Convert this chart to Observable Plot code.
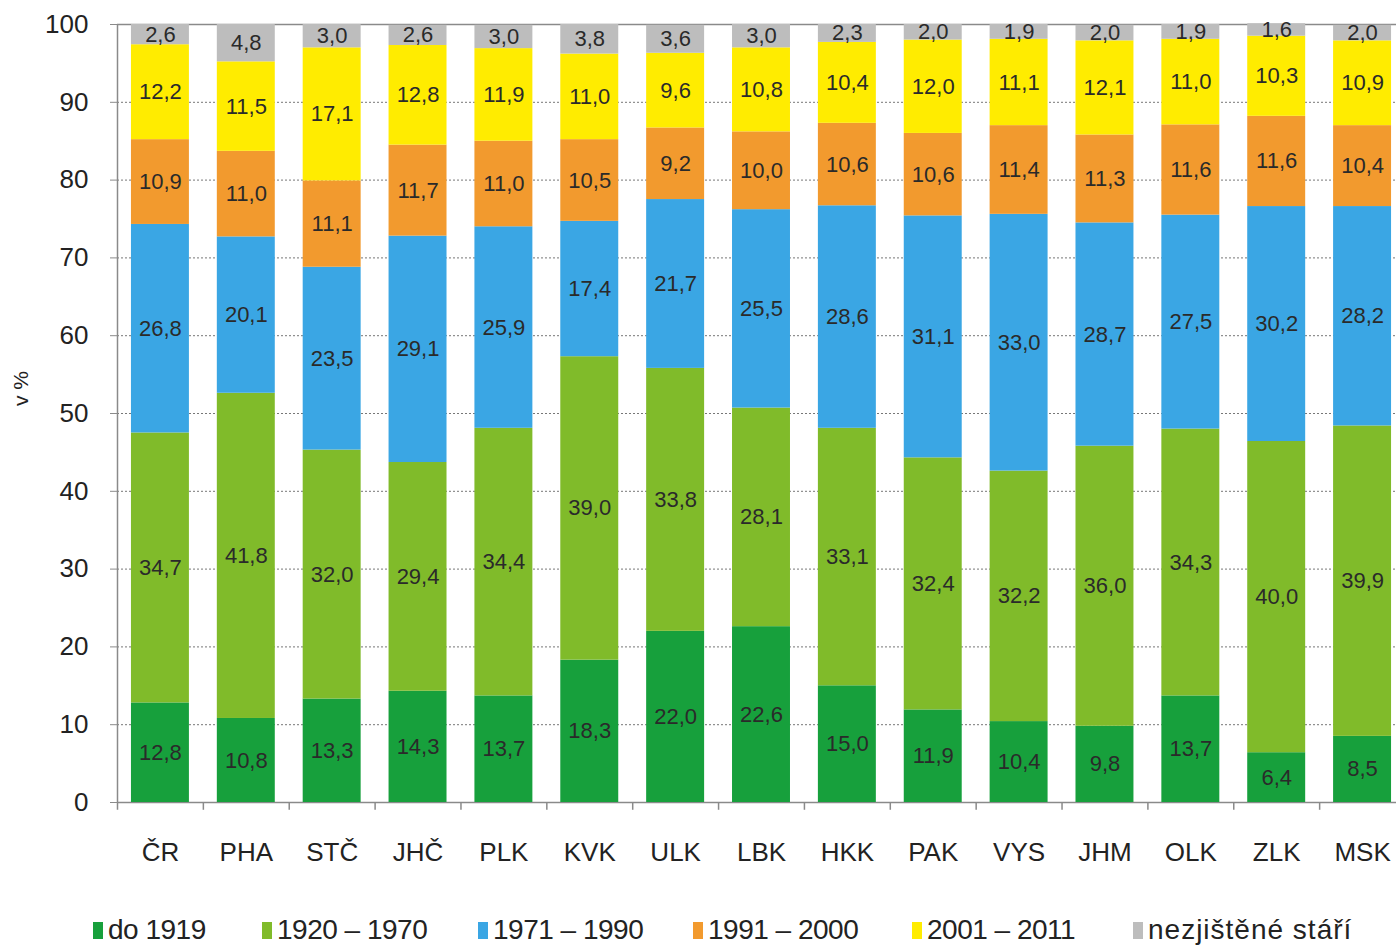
<!DOCTYPE html>
<html>
<head>
<meta charset="utf-8">
<script src="https://cdn.jsdelivr.net/npm/d3@7"></script>
<script src="https://cdn.jsdelivr.net/npm/@observablehq/plot@0.6"></script>
<style>
  html, body { margin: 0; padding: 0; background: #fff; }
  body { width: 1396px; height: 946px; overflow: hidden; font-family: "Liberation Sans", Arial, sans-serif; }
  #legend { position: relative; height: 66px; }
  .item { position: absolute; top: 30px; height: 40px; display: flex; align-items: center; font-size: 28px; color: #222; letter-spacing: -0.5px; font-family: "Liberation Sans", Arial, sans-serif; white-space: nowrap; }
  .sw { width: 10px; height: 17px; margin-right: 5px; }
</style>
</head>
<body>
<div id="chart"></div>
<div id="legend"></div>
<script>
const categories = ["ČR","PHA","STČ","JHČ","PLK","KVK","ULK","LBK","HKK","PAK","VYS","JHM","OLK","ZLK","MSK"];
const seriesNames = ["do 1919","1920 – 1970","1971 – 1990","1991 – 2000","2001 – 2011","nezjištěné stáří"];
const seriesColors = ["#17a03c","#80bb2a","#3aa6e4","#f29a2e","#ffec00","#bdbdbd"];
const do1919   = [12.8,10.8,13.3,14.3,13.7,18.3,22.0,22.6,15.0,11.9,10.4, 9.8,13.7, 6.4, 8.5];
const y1920_70 = [34.7,41.8,32.0,29.4,34.4,39.0,33.8,28.1,33.1,32.4,32.2,36.0,34.3,40.0,39.9];
const y1971_90 = [26.8,20.1,23.5,29.1,25.9,17.4,21.7,25.5,28.6,31.1,33.0,28.7,27.5,30.2,28.2];
const y1991_00 = [10.9,11.0,11.1,11.7,11.0,10.5, 9.2,10.0,10.6,10.6,11.4,11.3,11.6,11.6,10.4];
const y2001_11 = [12.2,11.5,17.1,12.8,11.9,11.0, 9.6,10.8,10.4,12.0,11.1,12.1,11.0,10.3,10.9];
const unknown  = [ 2.6, 4.8, 3.0, 2.6, 3.0, 3.8, 3.6, 3.0, 2.3, 2.0, 1.9, 2.0, 1.9, 1.6, 2.0];
const yTicks = [0,10,20,30,40,50,60,70,80,90,100];

const seriesValues = [do1919, y1920_70, y1971_90, y1991_00, y2001_11, unknown];
const data = [];
seriesNames.forEach((s, si) => {
  categories.forEach((c, ci) => data.push({cat: c, series: s, value: seriesValues[si][ci]}));
});

const width = 1396, marginLeft = 117, marginRight = -9;
const step = (width - marginLeft - marginRight) / categories.length;
const fmt = v => v.toFixed(1).replace(".", ",");

const chart = Plot.plot({
  width, height: 880,
  marginLeft, marginRight, marginTop: 24, marginBottom: 78,
  style: {fontFamily: "Liberation Sans, Arial, sans-serif", color: "#222", background: "#fff", overflow: "visible"},
  x: {domain: categories, paddingInner: 0.325, paddingOuter: 0.1625, round: false, label: null},
  y: {domain: [0, 100], label: null},
  color: {domain: seriesNames, range: seriesColors},
  marks: [
    Plot.gridY(yTicks.slice(1, -1), {stroke: "#777", strokeOpacity: 1, strokeDasharray: "2,2", strokeWidth: 1}),
    Plot.ruleY([0, 100], {stroke: "#8a8a8a", strokeWidth: 1.5}),
    Plot.ruleX(categories, {x: d => d, dx: -step / 2, y1: -1, y2: d => d === categories[0] ? 100 : 0, stroke: "#8a8a8a", strokeWidth: 1.5}),
    Plot.barY(data, {x: "cat", y: "value", fill: "series", z: "series"}),
    Plot.text(data, Plot.stackY({x: "cat", y: "value", z: "series", text: d => fmt(d.value), fill: "#2a2a2a", fontSize: 22, letterSpacing: "-0.5px"})),
    Plot.axisY(yTicks, {tickSize: 7, tickPadding: 22, fontSize: 26, stroke: "#8a8a8a", fill: "#222", label: null}),
    Plot.text(["v %"], {frameAnchor: "left", textAnchor: "middle", dx: -96, dy: -25, rotate: -90, fontSize: 21, fill: "#222"}),
    Plot.axisX({tickSize: 0, tickPadding: 40, fontSize: 26, fill: "#222"})
  ]
});
document.getElementById("chart").appendChild(chart);

const legendX = [93, 262, 478, 693, 912, 1133];
const legend = document.getElementById("legend");
seriesNames.forEach((s, i) => {
  const it = document.createElement("div");
  it.className = "item";
  it.style.left = legendX[i] + "px";
  if (i === seriesNames.length - 1) it.style.letterSpacing = "1px";
  const sw = document.createElement("span");
  sw.className = "sw";
  sw.style.background = seriesColors[i];
  it.appendChild(sw);
  it.appendChild(document.createTextNode(s));
  legend.appendChild(it);
});
</script>
</body>
</html>
